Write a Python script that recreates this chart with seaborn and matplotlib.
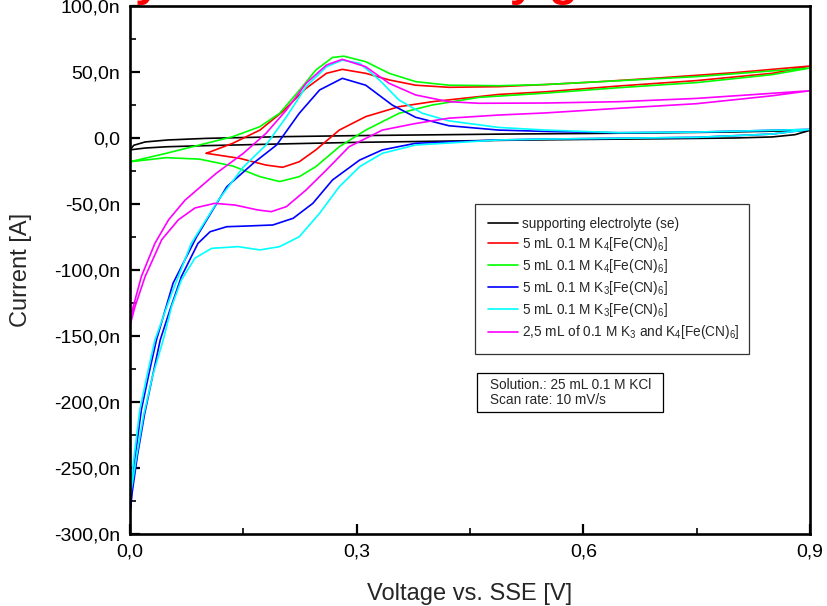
import matplotlib

matplotlib.use("Agg")

import matplotlib.pyplot as plt
import numpy as np
import pandas as pd
import seaborn as sns
from matplotlib.patches import Rectangle
from matplotlib.ticker import FixedLocator

# cyclic scans, voltage [V] / current [nA]
se_v = [0, 0.005, 0.02, 0.05, 0.1, 0.2, 0.3, 0.4, 0.5, 0.6, 0.7, 0.8, 0.9,
        0.88, 0.85, 0.8, 0.7, 0.6, 0.5, 0.4, 0.3, 0.2, 0.1, 0.05, 0.02, 0]
se_i = [-9, -5.5, -3, -1.5, -0.3, 1.0, 1.8, 2.4, 3.0, 3.4, 3.9, 4.6, 5.8,
        2.5, 0.8, 0.0, -0.6, -1.1, -1.7, -2.5, -3.3, -4.5, -5.8, -6.6, -7.6, -9]

k4a_v = [0.101, 0.136, 0.172, 0.202, 0.233, 0.26, 0.281, 0.312, 0.343, 0.378, 0.422, 0.488, 0.55, 0.62, 0.7, 0.8, 0.9,
         0.85, 0.75, 0.647, 0.55, 0.488, 0.4, 0.356, 0.312, 0.277, 0.246, 0.224, 0.202, 0.18, 0.145, 0.101]
k4a_i = [-11.6, -4, 6, 20, 37.6, 49, 52, 49, 44, 40, 38.4, 38.9, 40.5, 42.6, 45.5, 49.5, 54.5,
         49, 43.5, 39.4, 35, 33, 27.5, 23.7, 16.2, 6, -9, -18, -22.2, -20.5, -15.4, -11.6]

k4b_v = [0, 0.048, 0.092, 0.136, 0.172, 0.198, 0.224, 0.246, 0.268, 0.283, 0.312, 0.343, 0.378, 0.422, 0.488, 0.55,
         0.647, 0.75, 0.9,
         0.85, 0.75, 0.647, 0.55, 0.462, 0.4, 0.356, 0.312, 0.277, 0.246, 0.224, 0.198, 0.172, 0.136, 0.092, 0.048, 0]
k4b_i = [-18, -11.6, -5.3, 1, 8.6, 18.7, 36, 51.5, 61, 62, 57.8, 49, 42.7, 40, 39.6, 40.5,
         43.4, 46.5, 53,
         48, 42, 38.1, 34, 30.8, 25, 18.7, 6, -6.6, -21.7, -29.3, -33, -29.3, -21.2, -16, -14.9, -18]

k3a_v = [0, 0.002, 0.008, 0.015, 0.026, 0.035, 0.057, 0.088, 0.128, 0.163, 0.194, 0.224, 0.251, 0.281, 0.312, 0.347,
         0.378, 0.422, 0.488, 0.55, 0.647, 0.75, 0.9,
         0.85, 0.75, 0.647, 0.55, 0.488, 0.378, 0.334, 0.304, 0.268, 0.242, 0.216, 0.189, 0.154, 0.128, 0.106, 0.09,
         0.068, 0.053, 0.04, 0.03, 0.019, 0.01, 0.003, 0]
k3a_i = [-285, -265, -236, -206, -176, -153, -110, -75, -37, -19.2, -5.3, 18.7, 36.4, 45.2, 40, 25,
         15.7, 9.3, 6, 5, 4, 4.5, 6.5,
         3, 0.5, -0.2, -0.8, -1.5, -4, -9, -16.7, -31.8, -49.5, -60.8, -65.9, -66.7, -67.2, -71, -79.8,
         -105, -130, -153, -180, -210, -240, -268, -285]

k3b_v = [0, 0.001, 0.0066, 0.013, 0.024, 0.033, 0.055, 0.081, 0.117, 0.15, 0.18, 0.207, 0.233, 0.26, 0.281, 0.304,
         0.33, 0.356, 0.387, 0.422, 0.488, 0.55, 0.647, 0.75, 0.9,
         0.85, 0.75, 0.647, 0.55, 0.488, 0.378, 0.334, 0.304, 0.277, 0.251, 0.224, 0.198, 0.172, 0.143, 0.108, 0.086,
         0.068, 0.055, 0.044, 0.03, 0.018, 0.009, 0.003, 0]
k3b_i = [-272, -262, -236, -206, -176, -153, -118, -80, -47, -22, -5.3, 16, 38.9, 54, 59, 56.6,
         44, 28.8, 18.7, 13, 8, 6, 4, 4.5, 6.5,
         3, 0.5, -0.2, -0.8, -1.5, -5.3, -11.6, -21.7, -36.9, -57, -74.8, -82.3, -84.8, -82.3, -83.6, -91,
         -107.6, -127.8, -153, -180, -210, -240, -262, -272]

mix_v = [0, 0.002, 0.015, 0.033, 0.051, 0.073, 0.114, 0.15, 0.18, 0.207, 0.233, 0.26, 0.281, 0.312, 0.343, 0.378,
         0.422, 0.462, 0.55, 0.647, 0.75, 0.9,
         0.85, 0.75, 0.647, 0.55, 0.488, 0.422, 0.378, 0.334, 0.29, 0.26, 0.233, 0.207, 0.187, 0.169, 0.139, 0.112,
         0.086, 0.064, 0.042, 0.02, 0.0066, 0]
mix_i = [-142, -132.6, -105, -79.8, -62, -47, -26.8, -11.6, 3.5, 21.2, 41.4, 55.3, 59.6, 54, 41.4, 32.6,
         27.5, 26.3, 26.5, 27.5, 30, 35.8,
         32, 26, 22.5, 19, 17.4, 15, 11, 6, -6.6, -24.2, -39.4, -52, -55.8, -54.5, -50.8, -49.5,
         -53, -62, -77, -105, -127.8, -142]

series_labels = [
    "supporting electrolyte (se)",
    "5 mL 0.1 M K$_4$[Fe(CN)$_6$]",
    "5 mL 0.1 M K$_4$[Fe(CN)$_6$]",
    "5 mL 0.1 M K$_3$[Fe(CN)$_6$]",
    "5 mL 0.1 M K$_3$[Fe(CN)$_6$]",
    "2,5 mL of 0.1 M K$_3$ and K$_4$[Fe(CN)$_6$]",
]
series_colors = ["#000000", "#ff0000", "#00ff00", "#0000ff", "#00ffff", "#ff00ff"]
series_data = [(se_v, se_i), (k4a_v, k4a_i), (k4b_v, k4b_i), (k3a_v, k3a_i), (k3b_v, k3b_i), (mix_v, mix_i)]

y_ticks = [-300, -250, -200, -150, -100, -50, 0, 50, 100]
y_tick_labels = ["-300,0n", "-250,0n", "-200,0n", "-150,0n", "-100,0n", "-50,0n", "0,0", "50,0n", "100,0n"]
x_ticks = [0.0, 0.3, 0.6, 0.9]
x_tick_labels = ["0,0", "0,3", "0,6", "0,9"]

sns.set_style("white")
plt.rcParams["font.family"] = ["Liberation Sans", "DejaVu Sans"]
plt.rcParams["mathtext.fontset"] = "custom"
plt.rcParams["mathtext.rm"] = "Liberation Sans"
plt.rcParams["mathtext.it"] = "Liberation Sans:italic"

fig = plt.figure(figsize=(8.27, 6.06), dpi=100)
ax = fig.add_axes([130 / 827, 1 - 534 / 606, 680 / 827, 528 / 606])

for (v, i), color, label in zip(series_data, series_colors, series_labels):
    frame = pd.DataFrame({"V": v, "I": i})
    sns.lineplot(data=frame, x="V", y="I", sort=False, estimator=None, color=color,
                 label=label, linewidth=1.2, ax=ax)

ax.set_xlim(0, 0.9)
ax.set_ylim(-300, 100)
ax.set_xticks(x_ticks)
ax.set_xticklabels(x_tick_labels)
ax.set_yticks(y_ticks)
ax.set_yticklabels(y_tick_labels)
ax.xaxis.set_minor_locator(FixedLocator([0.15, 0.45, 0.75]))
ax.yaxis.set_minor_locator(FixedLocator(np.arange(-275, 100, 50)))
ax.tick_params(which="major", direction="in", length=7, width=1.6, labelsize=14, pad=7, colors="black")
ax.tick_params(which="minor", direction="in", length=4, width=1.4)
ax.tick_params(left=True, bottom=True, which="both")
for spine in ax.spines.values():
    spine.set_linewidth(1.9)
    spine.set_color("black")

ax.set_xlabel("Voltage vs. SSE [V]", fontsize=17, labelpad=16)
ax.set_ylabel("Current [A]", fontsize=17, labelpad=16)

leg = ax.legend(loc="upper left", bbox_to_anchor=(0.507, 0.625, 0.403, 0.0), mode="expand",
                fontsize=9.8, frameon=True, fancybox=False, handlelength=2.2, handletextpad=0.35,
                labelspacing=0.3, borderpad=0.95, borderaxespad=0)
leg.get_frame().set_edgecolor("black")
leg.get_frame().set_linewidth(0.9)

# info box
ax.add_patch(Rectangle((0.510, 0.231), 0.274, 0.074, transform=ax.transAxes, facecolor="white",
                       edgecolor="black", linewidth=0.9, zorder=5))
ax.text(0.529, 0.268, "Solution.: 25 mL 0.1 M KCl\nScan rate: 10 mV/s", transform=ax.transAxes,
        fontsize=9.8, va="center", ha="left", linespacing=1.15, zorder=6)

# title sits above the canvas, only its descenders show
fig.text(101 / 827, 1 + 5 / 606, "Cyclic Voltammetry gold", color="red", fontsize=34,
         fontweight="bold", ha="left", va="baseline")

fig.savefig("out.png", dpi=100)
